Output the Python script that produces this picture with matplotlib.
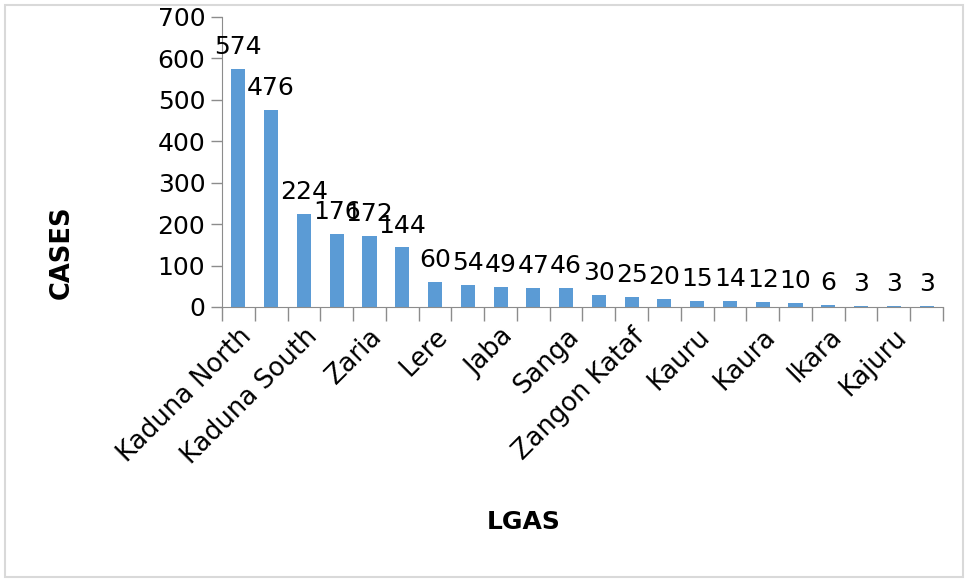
import matplotlib.pyplot as plt
import numpy as np
from matplotlib.patches import Rectangle

# LGA names (only every other one is shown on the axis, as in the original)
lgas = ["Kaduna North", "Chikun", "Kaduna South", "Igabi", "Zaria", "Sabon Gari",
        "Lere", "Kachia", "Jaba", "Jema'a", "Sanga", "Kagarko", "Zangon Kataf",
        "Giwa", "Kauru", "Kubau", "Kaura", "Makarfi", "Ikara", "Soba", "Kajuru", "Kudan"]
cases = [574, 476, 224, 176, 172, 144, 60, 54, 49, 47, 46, 30, 25, 20, 15, 14,
         12, 10, 6, 3, 3, 3]

bar_color = "#5B9BD5"
axis_color = "#8C8C8C"

fig = plt.figure(figsize=(9.7, 5.85), dpi=100)
ax = fig.add_axes([222 / 970, 1 - 307 / 585, (943 - 222) / 970, (307 - 17) / 585])

x = np.arange(len(lgas))
ax.bar(x, cases, width=0.43, color=bar_color)

for xi, v in zip(x, cases):
    ax.annotate(str(v), (xi, v), xytext=(0, 7), textcoords="offset points",
                ha="center", va="bottom", fontsize=18)

ax.set_xlim(-0.5, len(lgas) - 0.5)
ax.set_ylim(0, 700)
ax.set_yticks(range(0, 701, 100))

# labels at every other category, tick marks at the category boundaries
ax.set_xticks(x[::2])
ax.set_xticklabels(lgas[::2], rotation=45, ha="right", rotation_mode="anchor",
                   fontsize=18.5)
ax.tick_params(axis="x", which="major", length=0, pad=12)
ax.set_xticks(np.arange(-0.5, len(lgas), 1), minor=True)
ax.tick_params(axis="x", which="minor", length=10, color=axis_color, width=1)
ax.tick_params(axis="y", labelsize=18, length=8, color=axis_color, width=1, pad=4)

for side in ["top", "right"]:
    ax.spines[side].set_visible(False)
for side in ["left", "bottom"]:
    ax.spines[side].set_color(axis_color)

fig.text(62 / 970, 1 - 252 / 585, "CASES", rotation=90, ha="center", va="center",
         fontsize=18.5, fontweight="bold")
fig.text(524 / 970, 1 - 522 / 585, "LGAS", ha="center", va="center",
         fontsize=18, fontweight="bold")

fig.patches.append(Rectangle((5 / 970, 8 / 585), 958 / 970, 572 / 585,
                             transform=fig.transFigure, fill=False,
                             edgecolor="#D9D9D9", linewidth=1.5))

fig.savefig("out.png", dpi=100)
plt.close(fig)
